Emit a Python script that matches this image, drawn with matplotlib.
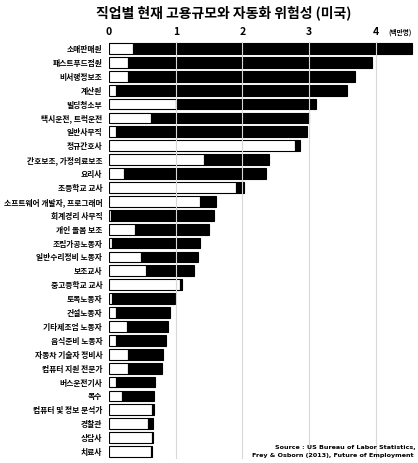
import matplotlib
matplotlib.use("Agg")
import matplotlib.pyplot as plt

# occupations, top to bottom
jobs = ["소매판매원", "패스트푸드점원", "비서행정보조", "계산원", "빌딩청소부",
        "택시운전, 트럭운전", "일반사무직", "정규간호사", "간호보조, 가정의료보조", "요리사",
        "초등학교 교사", "소프트웨어 개발자, 프로그래머", "회계경리 사무직", "개인 돌봄 보조",
        "조립가공노동자", "일반수리정비 노동자", "보조교사", "중고등학교 교사", "토목노동자",
        "건설노동자", "기타제조업 노동자", "음식준비 노동자", "자동차 기술자 정비사",
        "컴퓨터 지원 전문가", "버스운전기사", "목수", "컴퓨터 및 정보 분석가", "경찰관",
        "상담사", "치료사"]
# total employment (millions)
total = [4.54, 3.94, 3.68, 3.57, 3.10, 3.00, 2.96, 2.86, 2.39, 2.35,
         2.03, 1.61, 1.58, 1.50, 1.37, 1.34, 1.27, 1.09, 0.99, 0.91,
         0.89, 0.85, 0.81, 0.80, 0.69, 0.68, 0.67, 0.66, 0.66, 0.645]
# part at low risk of automation (white)
safe = [0.36, 0.29, 0.28, 0.10, 1.01, 0.63, 0.11, 2.79, 1.42, 0.22,
        1.91, 1.37, 0.03, 0.39, 0.04, 0.48, 0.55, 1.06, 0.05, 0.10,
        0.27, 0.10, 0.29, 0.28, 0.11, 0.19, 0.65, 0.59, 0.645, 0.63]

plt.rcParams['font.family'] = ['Noto Sans CJK KR', 'DejaVu Sans']

fig = plt.figure(figsize=(4.18, 4.63), dpi=100)
ax = fig.add_axes([0.261, 0.0097, 0.734, 0.9006])

y = list(range(len(jobs)))
risk = [t - s for t, s in zip(total, safe)]
ax.barh(y, safe, height=0.78, color="white", edgecolor="black", linewidth=0.8, zorder=2)
ax.barh(y, risk, left=safe, height=0.78, color="black", edgecolor="black", linewidth=0.8, zorder=2)

# light grid lines drawn over the bars
for gx in [1, 2, 3, 4]:
    ax.axvline(gx, color="#d8d8d8", linewidth=0.8, zorder=3)

ax.set_xlim(0, 4.6)
ax.set_ylim(len(jobs) - 0.5, -0.5)
ax.set_yticks(y)
ax.set_yticklabels(jobs, fontsize=5.6, fontweight="bold")
ax.tick_params(axis="y", length=0, pad=5)
ax.xaxis.tick_top()
ax.set_xticks([0, 1, 2, 3, 4])
ax.set_xticklabels(["0", "1", "2", "3", "4"], fontsize=7.5, fontweight="bold")
ax.tick_params(axis="x", length=0, pad=3)
for s in ax.spines.values():
    s.set_visible(False)

fig.text(388 / 418, 1 - 32 / 463, "(백만명)", fontsize=4.8, fontweight="bold",
         ha="left", va="center")
fig.text(0.535, 1 - 13 / 463, "직업별 현재 고용규모와 자동화 위험성 (미국)",
         fontsize=10, fontweight="bold", ha="center", va="center")
fig.text(275 / 418, 1 - 448 / 463, "Source : US Bureau of Labor Statistics,",
         fontsize=4.6, ha="left", va="center", family="DejaVu Sans Condensed", fontweight="bold")
fig.text(414 / 418, 1 - 455 / 463, "Frey & Osborn (2013), Future of Employment",
         fontsize=4.6, ha="right", va="center", family="DejaVu Sans Condensed", fontweight="bold")

fig.savefig("out.png", dpi=100)
